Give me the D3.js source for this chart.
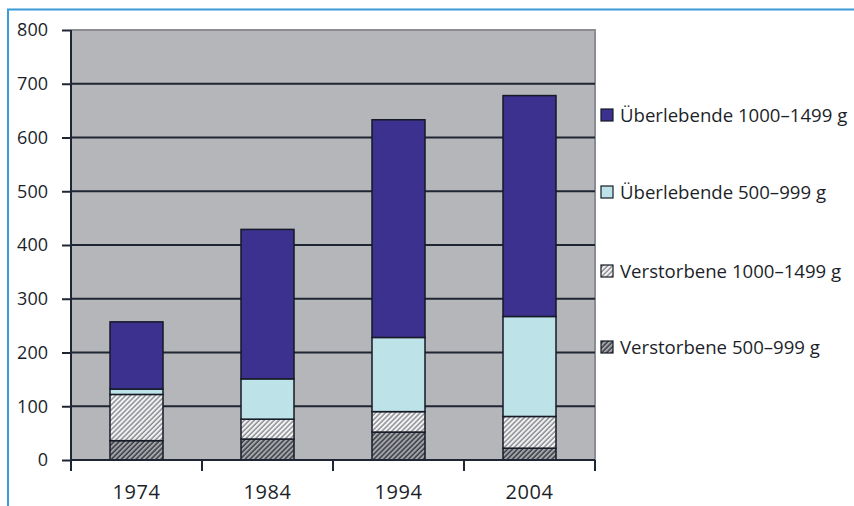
<!DOCTYPE html>
<html lang="de">
<head>
<meta charset="UTF-8">
<title>Stacked bars</title>
<script src="https://d3js.org/d3.v7.min.js"></script>
<style>
  body { margin: 0; background: #fff; }
  svg text { font-family: "Open Sans", "DejaVu Sans", sans-serif; fill: #1c1f2a; }
</style>
</head>
<body>
<script>
// data
const years = ["1974", "1984", "1994", "2004"];
const seriesNames = [
  "Verstorbene 500–999 g",
  "Verstorbene 1000–1499 g",
  "Überlebende 500–999 g",
  "Überlebende 1000–1499 g"
];
const verstorbene500 = [36, 39, 52, 22];
const verstorbene1000 = [86, 37, 38, 59];
const ueberlebende500 = [10, 75, 138, 186];
const ueberlebende1000 = [125, 278, 405, 411];
const yTicks = [0, 100, 200, 300, 400, 500, 600, 700, 800];

const W = 854, H = 506;
const plot = { left: 71, right: 595, top: 30, bottom: 460 };

const svg = d3.select("body").append("svg")
  .attr("width", W).attr("height", H);

// hatch patterns
const defs = svg.append("defs");
function hatch(id, bg, line) {
  const p = defs.append("pattern")
    .attr("id", id)
    .attr("patternUnits", "userSpaceOnUse")
    .attr("width", 3.5).attr("height", 3.5)
    .attr("patternTransform", "rotate(45)");
  p.append("rect").attr("width", 3.5).attr("height", 3.5).attr("fill", bg);
  p.append("line").attr("x1", 1).attr("y1", 0).attr("x2", 1).attr("y2", 3.5)
    .attr("stroke", line).attr("stroke-width", 1.4);
}
hatch("hLight", "#f4f4f4", "#85878d");
hatch("hDark", "#a4a6aa", "#33363e");

const fills = ["url(#hDark)", "url(#hLight)", "#bde3e8", "#3c318f"];

// frame
svg.append("path")
  .attr("d", `M8,${H} L8,9.5 L${W},9.5`)
  .attr("fill", "none").attr("stroke", "#3b9ad8").attr("stroke-width", 2);

const x = d3.scaleBand().domain(years).range([plot.left, plot.right]).paddingInner(0).paddingOuter(0);
const y = d3.scaleLinear().domain([0, 800]).range([plot.bottom, plot.top]);

// plot background
svg.append("rect")
  .attr("x", plot.left).attr("y", plot.top)
  .attr("width", plot.right - plot.left).attr("height", plot.bottom - plot.top)
  .attr("fill", "#b4b6b9");
svg.append("path")
  .attr("d", `M${plot.left},${plot.top} L${plot.right},${plot.top} L${plot.right},${plot.bottom}`)
  .attr("fill", "none").attr("stroke", "#8b8d92").attr("stroke-width", 2);

// gridlines
svg.append("g").selectAll("line")
  .data(yTicks.filter(d => d > 0 && d < 800))
  .join("line")
  .attr("x1", plot.left).attr("x2", plot.right)
  .attr("y1", d => y(d)).attr("y2", d => y(d))
  .attr("stroke", "#1e2633").attr("stroke-width", 2);

// stacked bars
const table = years.map((yr, i) => ({
  year: yr,
  [seriesNames[0]]: verstorbene500[i],
  [seriesNames[1]]: verstorbene1000[i],
  [seriesNames[2]]: ueberlebende500[i],
  [seriesNames[3]]: ueberlebende1000[i]
}));
const stacked = d3.stack().keys(seriesNames)(table);
const barW = 53;

svg.append("g").selectAll("g")
  .data(stacked)
  .join("g")
  .attr("fill", (d, i) => fills[i])
  .selectAll("rect")
  .data(d => d)
  .join("rect")
  .attr("x", d => x(d.data.year) + x.bandwidth() / 2 - barW / 2)
  .attr("y", d => y(d[1]))
  .attr("width", barW)
  .attr("height", d => y(d[0]) - y(d[1]))
  .attr("stroke", "#151a26").attr("stroke-width", 1.5);

// y axis
const yAxis = svg.append("g")
  .attr("transform", `translate(${plot.left},0)`)
  .call(d3.axisLeft(y).tickValues(yTicks).tickSize(9).tickPadding(14).tickSizeOuter(0));
yAxis.select(".domain").remove();
yAxis.append("line")
  .attr("x1", 0).attr("x2", 0).attr("y1", plot.top).attr("y2", plot.bottom + 11)
  .attr("stroke", "#1e2633").attr("stroke-width", 2);
yAxis.selectAll(".tick line").attr("stroke", "#1e2633").attr("stroke-width", 2);
yAxis.selectAll(".tick text").style("font-size", "18px").attr("fill", "#1c1f2a");

// x axis
const xAxis = svg.append("g")
  .attr("transform", `translate(0,${plot.bottom})`)
  .call(d3.axisBottom(x).tickSize(0).tickPadding(25));
xAxis.select(".domain").remove();
xAxis.append("line")
  .attr("x1", plot.left).attr("x2", plot.right).attr("y1", 0).attr("y2", 0)
  .attr("stroke", "#1e2633").attr("stroke-width", 2);
xAxis.selectAll(".sep")
  .data(years.map(d => x(d)).concat([plot.right]).slice(1))
  .join("line")
  .attr("x1", d => d).attr("x2", d => d).attr("y1", 0).attr("y2", 11)
  .attr("stroke", "#1e2633").attr("stroke-width", 2);
xAxis.selectAll(".tick text").style("font-size", "20px").style("letter-spacing", "0.6px").attr("fill", "#1c1f2a");

// legend (top series first)
const legendY = [115, 192, 271, 347];
const legend = svg.append("g").selectAll("g")
  .data(seriesNames.slice().reverse())
  .join("g")
  .attr("transform", (d, i) => `translate(601,${legendY[i]})`);
legend.append("rect")
  .attr("x", 0).attr("y", -6).attr("width", 12).attr("height", 12)
  .attr("fill", d => fills[seriesNames.indexOf(d)])
  .attr("stroke", "#151a26").attr("stroke-width", 1.2);
legend.append("text")
  .attr("x", 19).attr("y", 0).attr("dy", "0.36em")
  .style("font-size", "18.6px")
  .text(d => d);
</script>
</body>
</html>
